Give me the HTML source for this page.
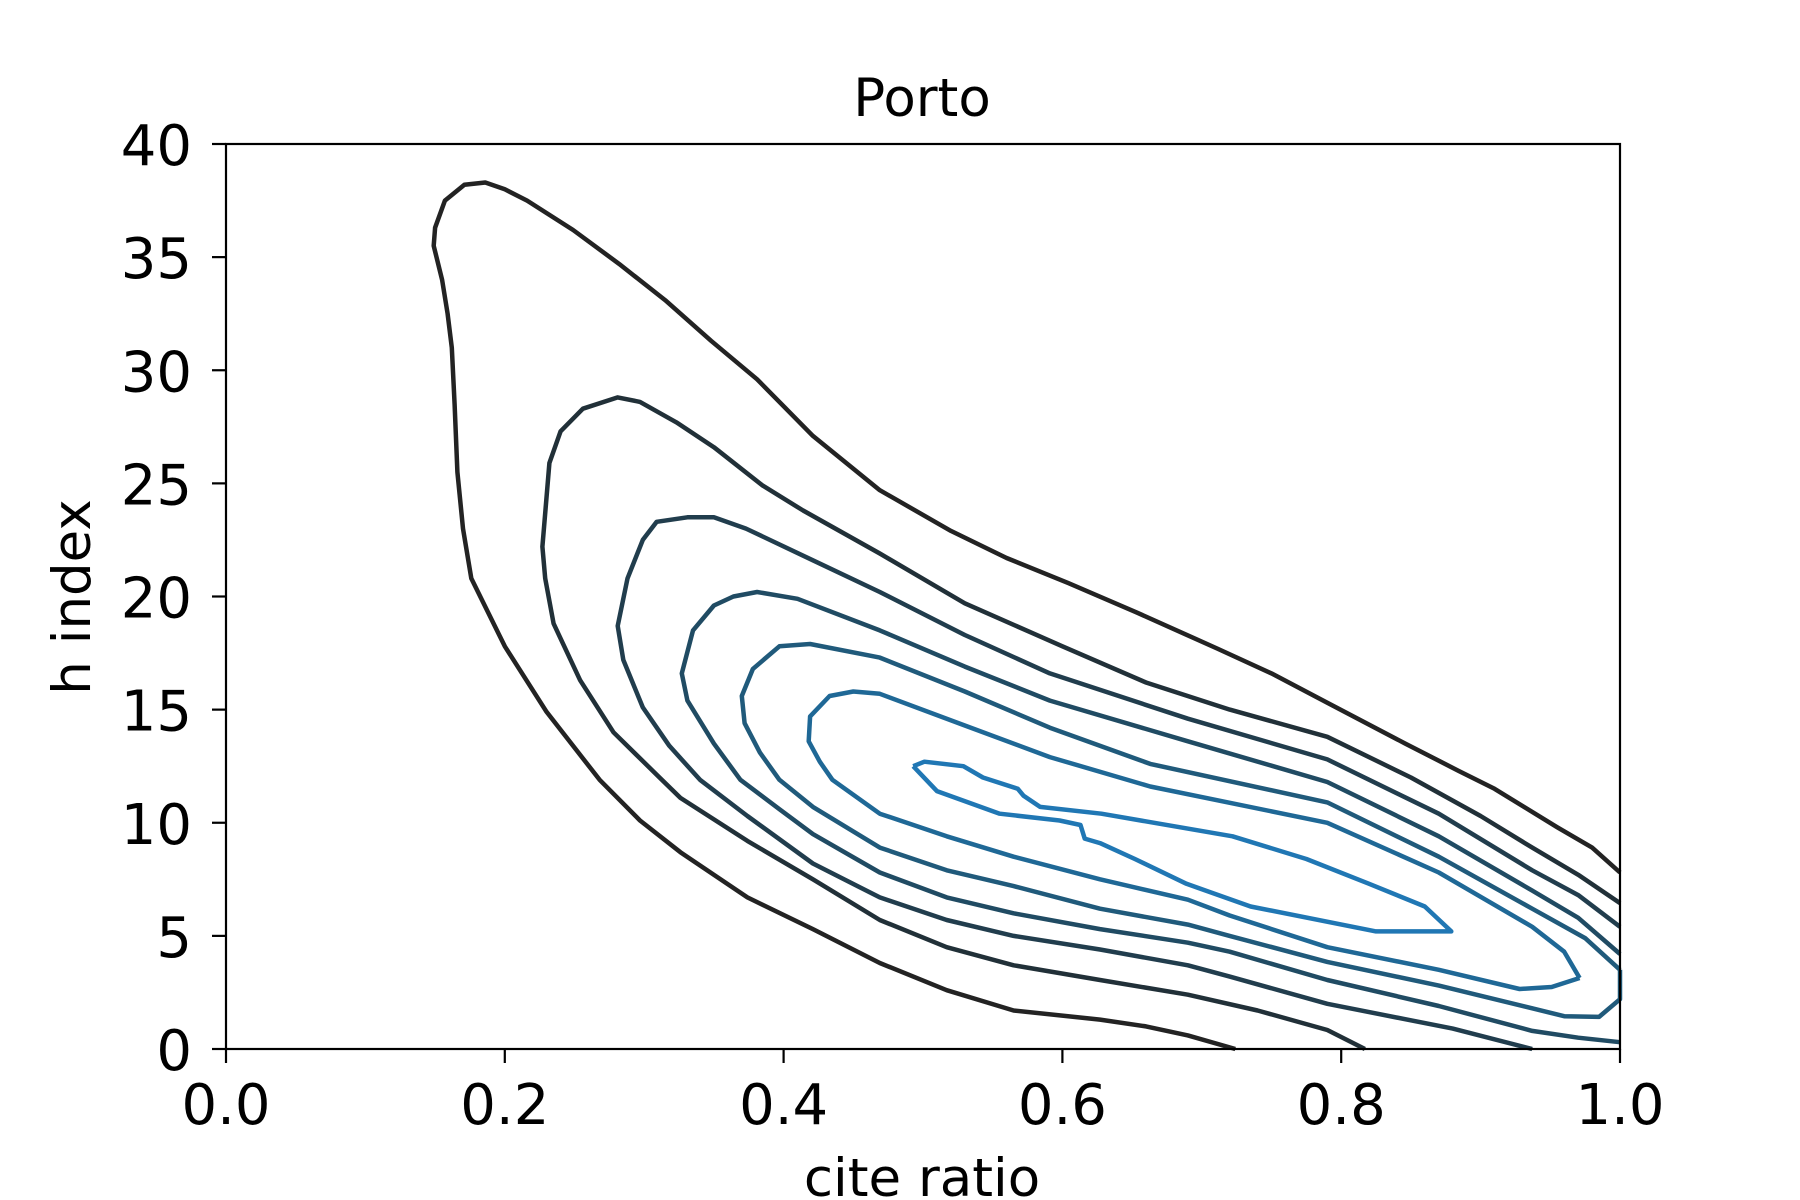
<!DOCTYPE html>
<html><head><meta charset="utf-8"><style>
html,body{margin:0;padding:0;background:#fff}
svg{display:block}
text{font-family:"DejaVu Sans","Liberation Sans",sans-serif;fill:#000}
</style></head><body>
<svg id="chart" width="1800" height="1200" viewBox="0 0 1800 1200">
<text x="922" y="116" font-size="53" text-anchor="middle">Porto</text>
<text x="922" y="1196" font-size="53" text-anchor="middle">cite ratio</text>
<text x="0" y="0" font-size="53" text-anchor="middle" transform="translate(90,597) rotate(-90)">h index</text>
<g id="marks"></g>
<g id="axes"></g>
</svg>
<script>
const xTicks=[0,0.2,0.4,0.6,0.8,1.0];
const xTickLabels=["0.0","0.2","0.4","0.6","0.8","1.0"];
const yTicks=[0,5,10,15,20,25,30,35,40];
const yTickLabels=["0","5","10","15","20","25","30","35","40"];
const levelColors=["#232323","#213038","#213d4d","#204b63","#205a7b","#1f6896","#2077b4"];
const level1=[[0.724,0],[0.69,0.6],[0.66,1.0],[0.627,1.3],[0.565,1.7],[0.517,2.6],[0.469,3.8],[0.421,5.3],[0.374,6.7],[0.326,8.7],[0.297,10.1],[0.268,11.9],[0.23,14.9],[0.2,17.8],[0.176,20.8],[0.17,23.0],[0.166,25.5],[0.164,28.5],[0.162,31.0],[0.159,32.5],[0.155,34.0],[0.149,35.5],[0.150,36.3],[0.157,37.5],[0.171,38.2],[0.186,38.3],[0.2,38.0],[0.216,37.5],[0.249,36.2],[0.282,34.7],[0.315,33.1],[0.348,31.3],[0.381,29.6],[0.421,27.1],[0.469,24.7],[0.52,22.9],[0.56,21.7],[0.604,20.6],[0.653,19.3],[0.711,17.7],[0.75,16.6],[0.79,15.3],[0.846,13.5],[0.884,12.3],[0.91,11.5],[0.955,9.8],[0.98,8.9],[1.0,7.8]];
const level2=[[0.817,0],[0.79,0.84],[0.74,1.7],[0.69,2.4],[0.627,3.05],[0.565,3.7],[0.517,4.5],[0.469,5.7],[0.421,7.5],[0.374,9.2],[0.326,11.1],[0.311,12.0],[0.278,14.0],[0.254,16.3],[0.235,18.8],[0.229,20.8],[0.227,22.2],[0.232,25.9],[0.24,27.3],[0.256,28.3],[0.281,28.8],[0.297,28.6],[0.323,27.7],[0.35,26.6],[0.385,24.9],[0.414,23.8],[0.469,21.9],[0.53,19.7],[0.6,17.8],[0.66,16.2],[0.72,15.0],[0.79,13.8],[0.85,12.0],[0.9,10.3],[0.937,8.9],[0.97,7.7],[1.0,6.45]];
const level3=[[0.937,0],[0.88,0.9],[0.79,2.0],[0.72,3.2],[0.69,3.7],[0.627,4.4],[0.565,5.0],[0.517,5.7],[0.469,6.7],[0.421,8.2],[0.374,10.3],[0.34,11.9],[0.318,13.4],[0.299,15.1],[0.285,17.2],[0.281,18.7],[0.288,20.8],[0.299,22.5],[0.309,23.3],[0.331,23.5],[0.35,23.5],[0.373,23.0],[0.421,21.6],[0.469,20.2],[0.53,18.3],[0.591,16.6],[0.69,14.6],[0.79,12.8],[0.87,10.4],[0.937,7.9],[0.97,6.8],[1.0,5.4]];
const level4=[[1.0,0.3],[0.97,0.5],[0.937,0.8],[0.87,1.9],[0.79,3.05],[0.72,4.3],[0.69,4.7],[0.627,5.3],[0.565,6.0],[0.517,6.7],[0.469,7.8],[0.421,9.5],[0.397,10.6],[0.369,11.9],[0.35,13.5],[0.331,15.4],[0.327,16.6],[0.335,18.5],[0.35,19.6],[0.364,20.0],[0.381,20.2],[0.41,19.9],[0.469,18.5],[0.53,16.9],[0.591,15.4],[0.69,13.6],[0.79,11.8],[0.87,9.4],[0.937,7.0],[0.97,5.8],[1.0,4.2]];
const level5=[[1.0,3.5],[1.0,2.2],[0.985,1.42],[0.96,1.45],[0.937,1.8],[0.87,2.8],[0.79,3.85],[0.72,5.0],[0.69,5.5],[0.627,6.2],[0.565,7.2],[0.517,7.9],[0.469,8.9],[0.421,10.7],[0.397,11.9],[0.383,13.1],[0.372,14.4],[0.37,15.6],[0.378,16.8],[0.397,17.8],[0.419,17.9],[0.469,17.3],[0.53,15.8],[0.591,14.2],[0.663,12.6],[0.79,10.9],[0.87,8.5],[0.937,6.2],[0.975,4.9],[1.0,3.5]];
const level6=[[0.971,3.14],[0.951,2.74],[0.928,2.65],[0.87,3.5],[0.79,4.5],[0.72,5.9],[0.69,6.6],[0.627,7.5],[0.565,8.5],[0.517,9.4],[0.469,10.4],[0.435,11.9],[0.426,12.7],[0.418,13.6],[0.419,14.7],[0.433,15.6],[0.45,15.8],[0.469,15.7],[0.53,14.3],[0.591,12.9],[0.663,11.6],[0.79,10.0],[0.87,7.8],[0.937,5.4],[0.96,4.3],[0.971,3.14]];
const level7=[[0.493,12.5],[0.501,12.7],[0.529,12.5],[0.543,12.0],[0.568,11.5],[0.572,11.2],[0.584,10.7],[0.628,10.4],[0.722,9.4],[0.775,8.4],[0.82,7.3],[0.86,6.3],[0.879,5.2],[0.866,5.2],[0.825,5.2],[0.735,6.3],[0.689,7.3],[0.652,8.4],[0.627,9.1],[0.616,9.3],[0.613,9.9],[0.598,10.1],[0.555,10.4],[0.51,11.4],[0.493,12.5]];
const levels=[level1,level2,level3,level4,level5,level6,level7];

const X0=226,X1=1620,Y0=1049,Y1=144;
function sx(v){return X0+(v-0)/(1-0)*(X1-X0);}
function sy(v){return Y0-(v-0)/(40-0)*(Y0-Y1);}
const NS="http://www.w3.org/2000/svg";
const marks=document.getElementById('marks');
levels.forEach((pts,i)=>{
  const p=document.createElementNS(NS,'polyline');
  p.setAttribute('points',pts.map(q=>sx(q[0]).toFixed(1)+','+sy(q[1]).toFixed(1)).join(' '));
  p.setAttribute('fill','none');
  p.setAttribute('stroke',levelColors[i]);
  p.setAttribute('stroke-width','4.5');
  p.setAttribute('stroke-linejoin','round');
  
  
  marks.appendChild(p);
});
const axes=document.getElementById('axes');
const frame=document.createElementNS(NS,'rect');
frame.setAttribute('x',X0);frame.setAttribute('y',Y1);
frame.setAttribute('width',X1-X0);frame.setAttribute('height',Y0-Y1);
frame.setAttribute('fill','none');frame.setAttribute('stroke','#000');frame.setAttribute('stroke-width','2.2');


axes.appendChild(frame);
xTicks.forEach((t,i)=>{
  const l=document.createElementNS(NS,'line');
  l.setAttribute('x1',sx(t));l.setAttribute('x2',sx(t));l.setAttribute('y1',Y0);l.setAttribute('y2',Y0+14);
  l.setAttribute('stroke','#000');l.setAttribute('stroke-width','2.2');
  
  
  axes.appendChild(l);
  const tx=document.createElementNS(NS,'text');
  tx.setAttribute('x',sx(t));tx.setAttribute('y',Y0+75);
  tx.setAttribute('font-size','56');tx.setAttribute('text-anchor','middle');
  tx.textContent=xTickLabels[i];
  
  
  axes.appendChild(tx);
});
yTicks.forEach((t,i)=>{
  const l=document.createElementNS(NS,'line');
  l.setAttribute('x1',X0-14);l.setAttribute('x2',X0);l.setAttribute('y1',sy(t));l.setAttribute('y2',sy(t));
  l.setAttribute('stroke','#000');l.setAttribute('stroke-width','2.2');
  
  
  axes.appendChild(l);
  const tx=document.createElementNS(NS,'text');
  tx.setAttribute('x',X0-34);tx.setAttribute('y',sy(t)+21);
  tx.setAttribute('font-size','56');tx.setAttribute('text-anchor','end');
  tx.textContent=yTickLabels[i];
  
  
  axes.appendChild(tx);
});
</script>
</body></html>
